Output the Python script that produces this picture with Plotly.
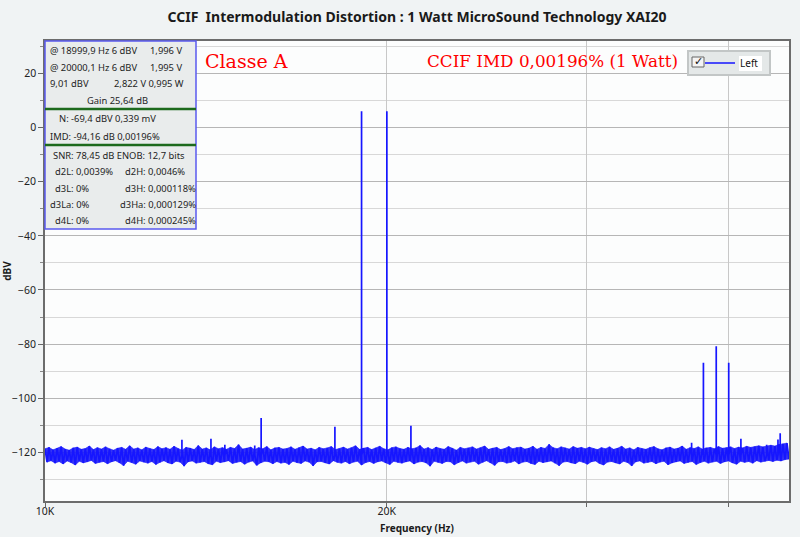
import numpy as np
import plotly.graph_objects as go

# noise floor left to right (upper / lower excursions of the trace)
noise_hi = [
    -118.7, -118.2, -119.1, -118.5, -117.9, -118.8, -119.2, -118.4, -118.1, -118.9, -118.6, -117.7, -119.0, -118.3, -118.8,
    -118.0, -118.7, -119.2, -118.5, -118.2, -118.9, -117.6, -118.8, -118.4, -119.1, -118.1, -118.6, -119.0, -117.9, -118.7,
    -118.3, -118.9, -117.8, -118.6, -119.2, -118.2, -118.5, -119.0, -117.5, -118.8, -118.4, -119.1, -118.0, -118.7, -118.3,
    -118.9, -118.2, -118.6, -117.2, -118.8, -118.5, -118.1, -119.0, -118.3, -118.7, -117.9, -119.1, -118.4, -118.2, -118.8,
    -118.6, -118.0, -118.9, -118.3, -117.7, -118.8, -118.5, -119.1, -118.2, -118.7, -118.4, -117.9, -119.0, -118.6, -118.1,
    -118.8, -118.3, -117.6, -118.9, -118.5, -118.2, -119.0, -118.4, -117.8, -118.7, -119.1, -118.3, -118.0, -118.6, -118.9,
    -118.2, -118.7, -118.4, -117.5, -118.8, -118.3, -119.0, -118.1, -118.6, -118.9, -117.9, -118.5, -119.2, -118.2, -118.7,
    -118.4, -118.0, -118.8, -118.3, -117.7, -118.9, -118.5, -118.2, -119.0, -118.6, -117.9, -118.7, -118.3, -118.1, -118.8,
    -118.5, -117.8, -118.9, -118.2, -118.6, -117.1, -118.3, -118.7, -118.0, -118.4, -118.8, -117.9, -118.5, -118.2, -118.7,
    -118.1, -118.6, -119.0, -118.3, -118.7, -118.0, -118.9, -118.5, -117.8, -118.8, -118.4, -119.1, -118.2, -118.6, -118.9,
    -118.3, -117.9, -118.7, -119.1, -118.4, -118.1, -118.8, -118.5, -117.7, -118.9, -118.3, -118.6, -118.0, -118.8, -118.4,
    -118.2, -118.7, -117.9, -118.5, -118.3, -118.0, -118.6, -118.1, -118.4, -117.8, -118.2, -117.9, -117.6, -118.0, -117.7,
    -117.4, -117.7, -117.1, -116.9, -116.6,
]
noise_lo = [
    -123.6, -123.1, -124.0, -123.4, -124.3, -123.2, -123.8, -124.7, -123.3, -123.9, -123.5, -123.0, -124.1, -123.7, -123.4,
    -124.2, -123.5, -123.1, -123.9, -124.9, -123.3, -123.8, -124.4, -123.2, -123.6, -124.0, -123.4, -124.5, -123.7, -123.1,
    -123.9, -124.3, -123.3, -123.6, -125.1, -123.5, -123.2, -124.0, -123.7, -123.4, -124.2, -124.6, -123.3, -123.8, -123.5,
    -123.1, -124.1, -123.7, -123.4, -124.4, -123.6, -123.2, -124.8, -123.9, -123.3, -123.5, -124.2, -123.4, -124.0, -123.7,
    -124.5, -123.3, -123.8, -124.1, -123.2, -123.6, -125.0, -123.5, -123.4, -123.9, -124.3, -123.1, -123.7, -124.0, -123.4,
    -124.2, -123.6, -123.3, -124.7, -123.8, -123.4, -124.1, -123.5, -123.2, -123.9, -124.5, -123.3, -123.7, -124.0, -123.5,
    -123.2, -124.3, -123.6, -123.4, -123.9, -125.1, -123.3, -123.7, -124.1, -123.4, -123.5, -124.6, -123.8, -123.2, -124.0,
    -123.6, -123.3, -124.4, -123.7, -123.1, -123.9, -124.8, -123.5, -123.4, -124.0, -123.7, -123.2, -124.3, -123.6, -123.4,
    -124.1, -124.5, -123.3, -123.8, -123.5, -123.2, -124.0, -124.9, -123.6, -123.4, -123.9, -124.2, -123.3, -123.7, -124.4,
    -123.5, -123.2, -124.1, -124.7, -123.6, -123.4, -123.9, -124.3, -123.3, -123.8, -125.0, -123.5, -123.2, -124.0, -123.7,
    -123.4, -124.2, -123.6, -123.3, -124.6, -123.9, -123.5, -123.2, -124.1, -123.7, -123.4, -124.5, -123.8, -123.3, -124.0,
    -123.6, -123.3, -124.1, -123.5, -123.2, -123.9, -124.4, -123.3, -123.7, -123.4, -124.0, -123.1, -123.6, -123.3, -123.0,
    -123.4, -122.9, -123.2, -122.7, -122.5,
]
noise_start_hz = 10000
noise_stop_hz = 45200

# the two CCIF tones and the spurs that stick out of the floor
spike_hz = [13200, 14000, 14400, 15300, 15500, 18000, 19000, 20000, 21000,
            37100, 38000, 39000, 40000, 41000, 43200, 44200, 44400]
spike_db = [-115.4, -115.0, -117.2, -117.5, -107.3, -110.6, 6.0, 6.0, -110.2,
            -116.5, -86.9, -80.8, -86.9, -115.0, -117.2, -115.3, -113.0]
spike_base_db = -121.0   # middle of the noise band, where each spur leaves it

x_tick_hz = [10000, 20000, 30000, 40000]
x_tick_text = ["10K", "20K", "", ""]
y_tick_db = [-120, -100, -80, -60, -40, -20, 0, 20]

# measurement panel (top left)
panel_text = [
    "@ 18999,9 Hz 6 dBV", "1,996 V",
    "@ 20000,1 Hz 6 dBV", "1,995 V",
    "9,01 dBV", "2,822 V 0,995 W",
    "Gain 25,64 dB",
    "N: -69,4 dBV 0,339 mV",
    "IMD: -94,16 dB 0,00196%",
    "SNR: 78,45 dB ENOB: 12,7 bits",
    "d2L: 0,0039%", "d2H: 0,0046%",
    "d3L: 0%", "d3H: 0,000118%",
    "d3La: 0%", "d3Ha: 0,000129%",
    "d4L: 0%", "d4H: 0,000245%",
]

title_text = "CCIF  Intermodulation Distortion : 1 Watt MicroSound Technology XAI20"
note_left = "Classe A"
note_right = "CCIF IMD 0,00196% (1 Watt)"

# ---------------------------------------------------------------
# pixel -> paper helpers (plot area 45..789 x 41..501)
def px_x(px):
    return (px - 45) / 744

def px_y(py):
    return (501 - py) / 460

bins = np.geomspace(noise_start_hz, noise_stop_hz, 2 * len(noise_hi))
floor = np.empty(len(bins))
floor[0::2] = noise_hi
floor[1::2] = noise_lo

# every spur as a vertical stroke: base -> top -> base at its own frequency
n_sp = len(spike_hz)
sp_x = np.repeat(spike_hz, 3)
sp_y = np.column_stack([np.full(n_sp, spike_base_db), spike_db, np.full(n_sp, spike_base_db)]).ravel()

freq = np.concatenate([bins, sp_x])
level = np.concatenate([floor, sp_y])
order = np.argsort(freq, kind="stable")

blue = "rgb(22,22,255)"

fig = go.Figure()
# the dense FFT floor reads as a solid band: fill between the upper and lower excursions
fig.add_trace(go.Scatter(x=bins[0::2], y=noise_hi, mode="lines", showlegend=False, hoverinfo="skip",
                         line=dict(color=blue, width=0.6, simplify=False)))
fig.add_trace(go.Scatter(x=bins[1::2], y=noise_lo, mode="lines", showlegend=False, hoverinfo="skip",
                         fill="tonexty", fillcolor="rgba(30,30,245,0.9)",
                         line=dict(color=blue, width=0.6, simplify=False)))
fig.add_trace(go.Scatter(x=freq[order], y=level[order], mode="lines", name="Left",
                         line=dict(color=blue, width=1.7, simplify=False)))

font_ui = "Noto Sans, Open Sans, sans-serif"

# panel annotations: (index in panel_text, left px, center y px)
panel_pos = [
    (0, 48, 50.5), (1, 148, 50.5),
    (2, 48, 67), (3, 148, 67),
    (4, 48, 83.5), (5, 112, 83.5),
    (6, 85, 100),
    (7, 57, 118.5),
    (8, 48, 136),
    (9, 50.5, 155),
    (10, 53, 171.5), (11, 123, 171.5),
    (12, 53, 188), (13, 123, 188),
    (14, 48, 204.5), (15, 117.5, 204.5),
    (16, 53, 221), (17, 123, 221),
]
annotations = []
for i, px, py in panel_pos:
    annotations.append(dict(text=panel_text[i], xref="paper", yref="paper",
                            x=px_x(px), y=px_y(py), xanchor="left", yanchor="middle",
                            showarrow=False, font=dict(family=font_ui, size=9.4, color="#1e1e1e")))

annotations.append(dict(text=note_left, xref="paper", yref="paper", x=px_x(203), y=px_y(61),
                        xanchor="left", yanchor="middle", showarrow=False,
                        font=dict(family="DejaVu Serif, serif", size=19, color="#ff0000")))
annotations.append(dict(text=note_right, xref="paper", yref="paper", x=px_x(425), y=px_y(61),
                        xanchor="left", yanchor="middle", showarrow=False,
                        font=dict(family="DejaVu Serif, serif", size=16.8, color="#ff0000")))
# checkbox tick in the legend box
annotations.append(dict(text="✓", xref="paper", yref="paper", x=px_x(698), y=px_y(62),
                        xanchor="center", yanchor="middle", showarrow=False,
                        font=dict(family="DejaVu Sans", size=11, color="#111111")))

shapes = [
    # panel box and its two green separators
    dict(type="rect", xref="paper", yref="paper", x0=px_x(45), x1=px_x(196), y0=px_y(229), y1=px_y(41),
         fillcolor="#e9ecec", line=dict(color="#5a5aee", width=1.5), layer="above"),
    dict(type="line", xref="paper", yref="paper", x0=px_x(45), x1=px_x(196), y0=px_y(109), y1=px_y(109),
         line=dict(color="#1d6a1d", width=2.5), layer="above"),
    dict(type="line", xref="paper", yref="paper", x0=px_x(45), x1=px_x(196), y0=px_y(145), y1=px_y(145),
         line=dict(color="#1d6a1d", width=2.5), layer="above"),
    # legend box, checkbox, white label background
    dict(type="rect", xref="paper", yref="paper", x0=px_x(688), x1=px_x(770), y0=px_y(75), y1=px_y(51),
         fillcolor="#e4e8e8", line=dict(color="#c2c6c6", width=2), layer="above"),
    dict(type="rect", xref="paper", yref="paper", x0=px_x(692), x1=px_x(704), y0=px_y(67), y1=px_y(57),
         fillcolor="#f4f4f4", line=dict(color="#666666", width=1), layer="above"),
    dict(type="rect", xref="paper", yref="paper", x0=px_x(739), x1=px_x(762), y0=px_y(71), y1=px_y(56),
         fillcolor="#ffffff", line=dict(width=0), layer="above"),
]

fig.update_layout(
    width=800, height=537,
    margin=dict(l=45, r=11, t=41, b=36, autoexpand=False),
    paper_bgcolor="#f0f3f4",
    plot_bgcolor="#fcfdfd",
    title=dict(text="<b>" + title_text + "</b>", x=0.5, xref="paper", y=1 - 17 / 537,
               yref="container", xanchor="center", yanchor="middle",
               font=dict(family=font_ui, size=14, color="#1a1a1a")),
    showlegend=True,
    legend=dict(x=px_x(700), y=px_y(63), xref="paper", yref="paper", xanchor="left", yanchor="middle",
                bgcolor="rgba(0,0,0,0)", borderwidth=0,
                font=dict(family=font_ui, size=10, color="#111111"),
                itemwidth=30),
    annotations=annotations,
    shapes=shapes,
    xaxis=dict(type="log", range=[np.log10(noise_start_hz), np.log10(noise_stop_hz)], automargin=False,
               tickvals=x_tick_hz, ticktext=x_tick_text, ticks="outside", ticklen=4,
               ticklabelstandoff=-4,
               tickcolor="#666666", showgrid=True, gridcolor="#c8c8c8", gridwidth=1,
               showline=True, linecolor="#6c6c6c", linewidth=1.5, mirror=True, zeroline=False,
               tickfont=dict(family=font_ui, size=10.5, color="#222222"),
               title=dict(text="<b>Frequency (Hz)</b>", standoff=8,
                          font=dict(family=font_ui, size=10, color="#1a1a1a"))),
    yaxis=dict(range=[-138, 32], tickvals=y_tick_db, ticks="outside", ticklen=5, automargin=False,
               tickcolor="#666666", showgrid=True, gridcolor="#b6b6b6", gridwidth=1,
               minor=dict(dtick=10, tick0=0, showgrid=True, gridcolor="#d8d8d8", ticks="outside",
                          ticklen=3, tickcolor="#888888"),
               showline=True, linecolor="#6c6c6c", linewidth=1.5, mirror=True, zeroline=False,
               tickfont=dict(family=font_ui, size=10.5, color="#222222"),
               title=dict(text="<b>dBV</b>", standoff=6,
                          font=dict(family=font_ui, size=10, color="#1a1a1a"))),
)

# the page's default body margin would push the 800x537 figure off the window
fig.write_html("out.html", config={"displayModeBar": False},
               post_script="document.body.style.margin = '0';")
